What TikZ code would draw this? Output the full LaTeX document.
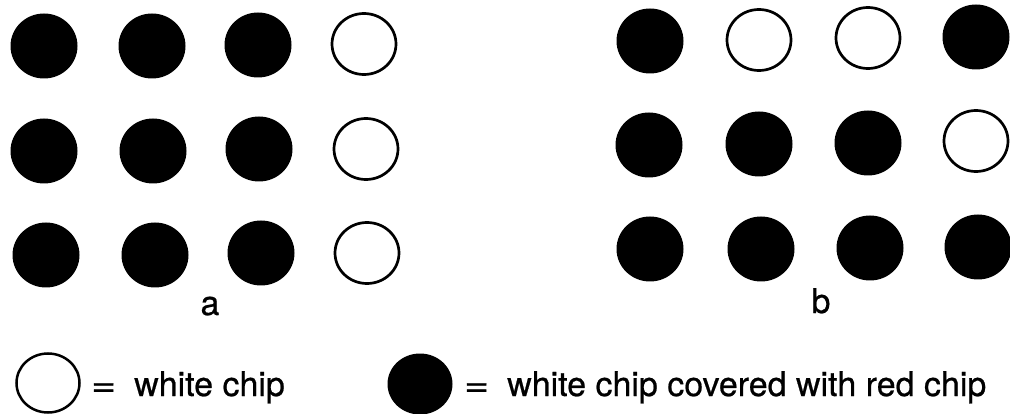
\documentclass[tikz,border=0pt]{standalone}
\usepackage{fontspec}
\setmainfont{TeX Gyre Heros}[FakeBold=0.6]
\usetikzlibrary{shapes.geometric}
\begin{document}
\begin{tikzpicture}[x=1pt,y=-1pt,
  redchip/.style={ellipse,fill=black,draw=none,minimum width=67pt,minimum height=65pt,inner sep=0pt},
  whitechip/.style={ellipse,draw=black,line width=2.7pt,fill=white,minimum width=64pt,minimum height=61pt,inner sep=0pt},
  lbl/.style={anchor=base west,inner sep=0pt,font=\fontsize{34}{40}\selectfont}]
\useasboundingbox[fill=white] (0,0) rectangle (1010,414);
% grid a
\node[redchip] (a11) at (44,46) {};
\node[redchip] (a12) at (152,46) {};
\node[redchip] (a13) at (258,45) {};
\node[whitechip] (a14) at (364,44) {};
\node[redchip] (a21) at (44,151) {};
\node[redchip] (a22) at (153,151) {};
\node[redchip] (a23) at (259,149) {};
\node[whitechip] (a24) at (366,149) {};
\node[redchip] (a31) at (46,255) {};
\node[redchip] (a32) at (155,255) {};
\node[redchip] (a33) at (261,253) {};
\node[whitechip] (a34) at (367,253) {};
% grid b
\node[redchip] (b11) at (650,41) {};
\node[whitechip] (b12) at (759,40) {};
\node[whitechip] (b13) at (868,38) {};
\node[redchip] (b14) at (976,37) {};
\node[redchip] (b21) at (649,145) {};
\node[redchip] (b22) at (759,144) {};
\node[redchip] (b23) at (868,143) {};
\node[whitechip] (b24) at (976,141) {};
\node[redchip] (b31) at (650,249) {};
\node[redchip] (b32) at (761,249) {};
\node[redchip] (b33) at (870,248) {};
\node[redchip] (b34) at (978,247) {};
% labels
\node[lbl,anchor=base] (la) at (210,315) {a};
\node[lbl,anchor=base] (lb) at (821,313) {b};
% legend
\node[whitechip,line width=2.5pt,minimum width=63pt,minimum height=59pt] (lw) at (48,383) {};
\node[lbl] (eq1) at (91,396) {\scalebox{1.25}[1]{=}};
\node[lbl] (tw) at (134,396) {white chip};
\node[redchip,minimum width=65pt,minimum height=61pt] (lr) at (420,384) {};
\node[lbl] (eq2) at (464,396) {\scalebox{1.25}[1]{=}};
\node[lbl] (tr) at (507,396) {white chip covered with red chip};
\end{tikzpicture}
\end{document}
